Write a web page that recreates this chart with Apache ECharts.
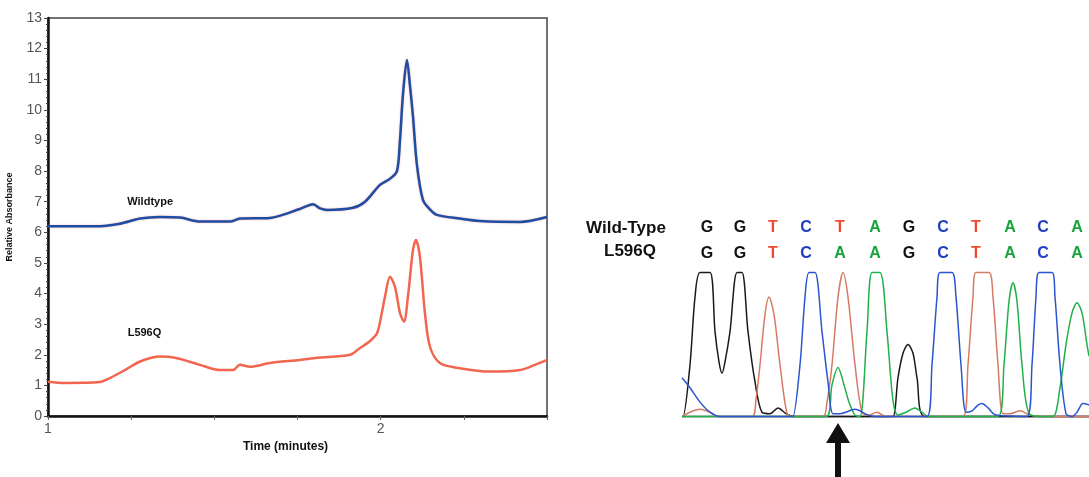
<!DOCTYPE html>
<html><head><meta charset="utf-8">
<script src="https://cdn.jsdelivr.net/npm/echarts@6/dist/echarts.min.js"></script>
<style>html,body{margin:0;padding:0;background:#fff}#c{width:1089px;height:477px}</style>
</head><body><div id="c"></div>
<script>
// ---- Left chart: HPLC traces (time in minutes, relative absorbance) ----
const wildtypeData = [
 [1.000,6.20],[1.156,6.20],[1.216,6.28],[1.277,6.45],[1.337,6.50],[1.397,6.48],[1.457,6.35],
 [1.547,6.35],[1.577,6.45],[1.667,6.47],[1.757,6.76],[1.797,6.92],[1.818,6.78],[1.839,6.73],
 [1.917,6.80],[1.953,7.00],[1.998,7.55],[2.028,7.75],[2.049,8.00],[2.058,9.00],[2.067,10.5],
 [2.079,11.63],[2.088,10.8],[2.097,9.8],[2.109,8.2],[2.127,7.06],[2.148,6.75],[2.169,6.57],
 [2.238,6.45],[2.298,6.37],[2.419,6.34],[2.500,6.50]
];
const mutantData = [
 [1.000,1.12],[1.051,1.08],[1.156,1.11],[1.186,1.24],[1.231,1.50],[1.277,1.78],[1.337,1.94],
 [1.382,1.90],[1.457,1.67],[1.517,1.50],[1.556,1.50],[1.577,1.67],[1.607,1.61],[1.667,1.73],
 [1.757,1.83],[1.809,1.90],[1.908,2.00],[1.938,2.22],[1.968,2.45],[1.989,2.70],[2.004,3.40],
 [2.013,3.90],[2.028,4.55],[2.043,4.22],[2.058,3.37],[2.070,3.08],[2.082,3.90],[2.097,5.42],
 [2.106,5.75],[2.118,5.20],[2.133,3.37],[2.148,2.27],[2.178,1.73],[2.238,1.56],[2.329,1.45],
 [2.419,1.50],[2.464,1.67],[2.500,1.83]
];
const traceLabels = [
 {name:'Wildtype', value:[1.307,7.0]},
 {name:'L596Q', value:[1.29,2.72]}
];
const timeTickLabels = [1, 2];

// ---- Right chart: sequencing chromatogram (scan position, signal %) ----
const blackTrace = [[0,0],[1,0],[8,36],[13,83],[18,100],[28,100],[33,59],[37,38],[40,30],[43,38],
 [48,59],[55,100],[60,100],[66,59],[73,24],[80,3],[88,2],[96,6],[104,2],[112,0],[205,0],[211,0],
 [216,27],[221,44],[226,50],[231,44],[235,27],[243,0],[407,0]];
const redTrace = [[0,0],[8,3],[18,5],[28,3],[36,0],[70,0],[74,12],[78,36],[83,71],[87,83],[92,71],
 [98,36],[105,2],[110,0],[141,0],[145,10],[150,36],[156,83],[161,100],[166,83],[173,36],[180,3],
 [187,1],[195,3],[204,0],[281,0],[286,36],[291,83],[294,100],[307,100],[311,83],[316,36],[321,2],
 [328,2],[338,4],[348,1],[360,0],[407,0]];
const blueTrace = [[0,27],[8,20],[18,10],[28,3],[38,0],[110,0],[111,0],[118,36],[123,83],[127,100],
 [133,100],[140,59],[146,24],[151,2],[158,2],[173,5],[186,1],[194,0],[245,0],[250,36],[255,83],
 [258,100],[270,100],[274,83],[279,36],[284,3],[290,4],[296,8],[300,9],[306,6],[314,1],[345,0],
 [350,36],[354,83],[357,100],[370,100],[373,83],[378,36],[384,2],[390,0],[395,3],[401,9],[407,8]];
const greenTrace = [[0,0],[144,0],[150,22],[156,34],[162,22],[167,10],[173,1],[178,0],[185,59],
 [190,100],[198,100],[205,59],[211,11],[216,1],[224,3],[233,6],[240,3],[246,0],[316,0],[322,36],
 [327,80],[331,93],[335,80],[340,36],[347,2],[360,0],[371,0],[378,20],[384,50],[390,72],[395,79],
 [400,72],[405,50],[407,42]];
const basePositions = [25,58,91,124,158,193,227,261,294,328,361,395];
const wildTypeSeq = ['G','G','T','C','T','A','G','C','T','A','C','A'];
const mutantSeq   = ['G','G','T','C','A','A','G','C','T','A','C','A'];
const seqRowLabels = [{name:'Wild-Type', value:[-56,131]},{name:'L596Q', value:[-52,115]}];
const arrowPos = [156, -42, -11.5];
const baseColors = {G:'#111111', T:'#ee4b32', C:'#1f3fbf', A:'#1aa33c'};

const letterPoints = [];
basePositions.forEach((p,i)=>{
  letterPoints.push({name:wildTypeSeq[i], value:[p,131], label:{color:baseColors[wildTypeSeq[i]]}});
  letterPoints.push({name:mutantSeq[i], value:[p,113], label:{color:baseColors[mutantSeq[i]]}});
});

const FONT = 'Liberation Sans, Arial, sans-serif';
const labelBase = {show:true, position:'inside', formatter:p=>p.name, fontFamily:FONT,
  fontWeight:'bold', textBorderWidth:0, opacity:1};

const chart = echarts.init(document.getElementById('c'));
chart.setOption({
  animation:false,
  backgroundColor:'#fff',
  grid:[
    {left:48, right:542, top:18, bottom:61, show:true, borderColor:'#444', borderWidth:1.5},
    {left:575, right:0, top:215, bottom:0}
  ],
  xAxis:[
    {gridIndex:0, type:'value', min:1, max:2.5, interval:0.25,
     name:'Time (minutes)', nameLocation:'middle', nameGap:18,
     nameTextStyle:{fontFamily:FONT, fontWeight:'bold', fontSize:12, color:'#111', padding:[0,24,0,0]},
     axisLine:{lineStyle:{color:'#111', width:2.5}},
     axisTick:{length:4, lineStyle:{color:'#666'}},
     axisLabel:{fontFamily:FONT, fontSize:14, color:'#555', margin:6,
       formatter:v=> timeTickLabels.includes(v) ? String(v) : ''},
     splitLine:{show:false}},
    {gridIndex:1, type:'value', min:-107, max:407, show:false}
  ],
  yAxis:[
    {gridIndex:0, type:'value', min:0, max:13, interval:1,
     name:'Relative Absorbance', nameLocation:'middle', nameGap:34, nameRotate:90,
     nameTextStyle:{fontFamily:FONT, fontWeight:'bold', fontSize:9, color:'#111', padding:[0,0,0,0]},
     axisLine:{lineStyle:{color:'#111', width:2.5}},
     axisTick:{length:4, lineStyle:{color:'#444'}},
     minorTick:{show:true, splitNumber:5, length:2, lineStyle:{color:'#444'}},
     axisLabel:{fontFamily:FONT, fontSize:14, color:'#555', margin:6},
     splitLine:{show:false}},
    {gridIndex:1, type:'value', min:-42, max:140, show:false}
  ],
  series:[
    {type:'line', xAxisIndex:0, yAxisIndex:0, data:wildtypeData, smooth:0.3, symbol:'none',
     lineStyle:{color:'#1d4ea3', width:2.5, shadowColor:'rgba(240,120,120,0.6)', shadowBlur:2}},
    {type:'line', xAxisIndex:0, yAxisIndex:0, data:mutantData, smooth:0.3, symbol:'none',
     lineStyle:{color:'#f2654f', width:2.5}},
    {type:'scatter', xAxisIndex:0, yAxisIndex:0, data:traceLabels, symbolSize:0,
     itemStyle:{opacity:1},
     label:Object.assign({}, labelBase, {fontSize:11, color:'#111'})},
    {type:'line', xAxisIndex:1, yAxisIndex:1, data:[[0,0],[407,0]], symbol:'none',
     lineStyle:{color:'#222', width:1.5}, z:1,
     markLine:{silent:true, symbol:['none','triangle'], symbolSize:[24,20], label:{show:false},
       lineStyle:{color:'#111', width:6, type:'solid', opacity:1},
       data:[[{coord:[arrowPos[0],arrowPos[1]]},{coord:[arrowPos[0],arrowPos[2]]}]]}},
    {type:'line', xAxisIndex:1, yAxisIndex:1, data:blackTrace, smooth:0.3, symbol:'none', lineStyle:{color:'#1a1a1a', width:1.5}},
    {type:'line', xAxisIndex:1, yAxisIndex:1, data:redTrace, smooth:0.3, symbol:'none', lineStyle:{color:'#d77a64', width:1.5}},
    {type:'line', xAxisIndex:1, yAxisIndex:1, data:greenTrace, smooth:0.3, symbol:'none', lineStyle:{color:'#22b04a', width:1.5}},
    {type:'line', xAxisIndex:1, yAxisIndex:1, data:blueTrace, smooth:0.3, symbol:'none', lineStyle:{color:'#2b55d0', width:1.5}},
    {type:'scatter', xAxisIndex:1, yAxisIndex:1, data:letterPoints, symbolSize:0,
     itemStyle:{opacity:1},
     label:Object.assign({}, labelBase, {fontSize:16})},
    {type:'scatter', xAxisIndex:1, yAxisIndex:1, data:seqRowLabels, symbolSize:0,
     itemStyle:{opacity:1},
     label:Object.assign({}, labelBase, {fontSize:17, color:'#111'})}
  ]
});
</script></body></html>
